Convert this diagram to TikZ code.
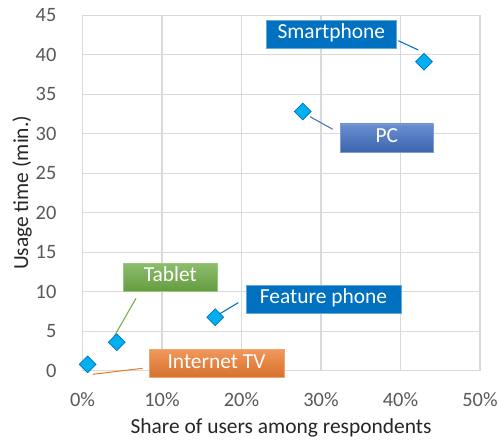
\documentclass[tikz,border=0pt]{standalone}
\usepackage{fontspec}
\setmainfont{Carlito}
\usetikzlibrary{shapes.geometric}
\definecolor{mgrid}{RGB}{217,217,217}
\definecolor{mtick}{RGB}{89,89,89}
\definecolor{mdot}{RGB}{0,176,240}
\definecolor{mdotline}{RGB}{0,112,192}
\definecolor{mblue}{RGB}{0,112,192}
\definecolor{mpc}{RGB}{68,114,196}
\definecolor{mgreen}{RGB}{112,173,71}
\definecolor{morange}{RGB}{237,125,49}
\tikzset{dot/.style = {draw = mdotline, fill = mdot, diamond, inner sep = 0, minimum size = 0.34cm, line width = 0.4pt}}
\tikzset{tag/.style = {text = white, inner sep = 0, minimum height = 0.56cm, text height = 0.68em, text depth = 0.18em, font = \fontsize{12.2}{14}\selectfont}}
\tikzset{tick/.style = {text = mtick, inner sep = 0, font = \fontsize{11.6}{13}\selectfont}}
\tikzset{title/.style = {text = black!85, inner sep = 0, font = \fontsize{12.2}{14}\selectfont}}
\tikzset{lead/.style = {draw = #1, line width = 0.6pt}}

\begin{document}
\begin{tikzpicture}[x = 0.159cm, y = 0.158cm]
  \useasboundingbox (-10.38, -8.9) rectangle (52.39, 46.92);

  \foreach \y in {0,5,...,45} {
    \draw [mgrid, line width = 0.6pt] (0, \y) -- (50, \y);
    \node [tick, anchor = east] (yt\y) at (-3.24, \y) {\y};
  }
  \foreach \x in {0,10,...,50} {
    \draw [mgrid, line width = 0.6pt] (\x, 0) -- (\x, 45);
    \node [tick] (xt\x) at (\x, -3.71) {\x\%};
  }
  \node [title, rotate = 90] (ytitle) at (-7.61, 22.5) {Usage time (min.)};
  \node [title] (xtitle) at (24.97, -7.28) {Share of users among respondents};

  % leader lines
  \coordinate (smarta) at (39.72, 41.77);
  \coordinate (smartb) at (42.24, 40.59);
  \coordinate (pca) at (31.47, 30.56);
  \coordinate (pcb) at (28.62, 32.15);
  \coordinate (taba) at (6.73, 9.16);
  \coordinate (tabb) at (3.96, 4.30);
  \coordinate (feata) at (19.60, 8.61);
  \coordinate (featb) at (16.67, 6.84);
  \coordinate (tva) at (7.57, 0.30);
  \coordinate (tvb) at (1.28, -0.46);
  \draw [lead = mblue] (smarta) -- (smartb);
  \draw [lead = mpc] (pca) -- (pcb);
  \draw [lead = mgreen] (taba) -- (tabb);
  \draw [lead = mblue] (feata) -- (featb);
  \draw [lead = morange] (tva) -- (tvb);

  \node [dot] (smart) at (42.96, 39.1) {};
  \node [dot] (pc) at (27.7, 32.8) {};
  \node [dot] (feat) at (16.7, 6.76) {};
  \node [dot] (tab) at (4.3, 3.6) {};
  \node [dot] (tv) at (0.65, 0.8) {};

  \node [tag, fill = mblue, draw = mblue!60!white, minimum width = 2.61cm] (smartlbl) at (31.3, 42.6) {Smartphone};
  \node [tag, top color = mpc!80!white, bottom color = mpc!90!black, draw = mpc!70!white, minimum width = 1.87cm] (pclbl) at (38.28, 29.47) {PC};
  \node [tag, top color = mgreen!80!white, bottom color = mgreen!90!black, draw = mgreen!70!white, minimum width = 1.88cm] (tablbl) at (11.04, 11.84) {Tablet};
  \node [tag, fill = mblue, draw = mblue!60!white, minimum width = 3.1cm] (featlbl) at (30.31, 9.06) {Feature phone};
  \node [tag, top color = morange!80!white, bottom color = morange!90!black, draw = morange!70!white, minimum width = 2.7cm] (tvlbl) at (16.86, 0.87) {Internet TV};
\end{tikzpicture}
\end{document}
